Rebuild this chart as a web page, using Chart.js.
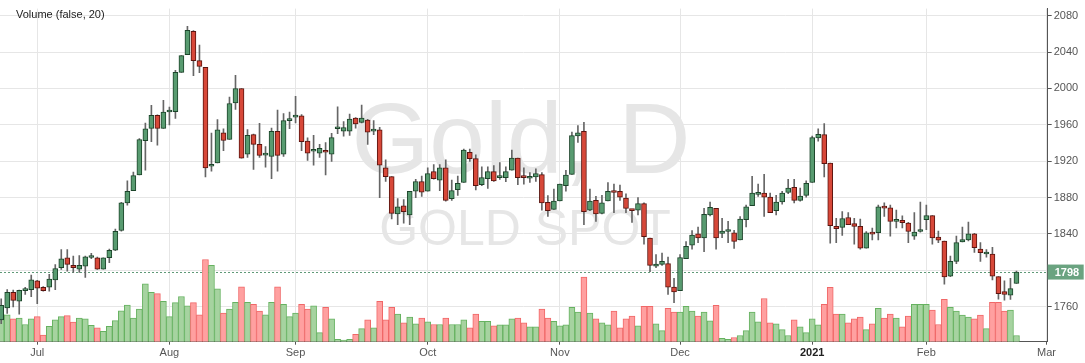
<!DOCTYPE html>
<html>
<head>
<meta charset="utf-8">
<script src="https://cdn.jsdelivr.net/npm/chart.js@4.4.1/dist/chart.umd.min.js"></script>
<style>
  html, body { margin: 0; padding: 0; background: #fff; }
  #wrap { position: relative; width: 1085px; height: 363px; }
  #volLabel { position: absolute; left: 16px; top: 8px; font: 11px 'Liberation Sans', Arial, sans-serif; color: #222; }
</style>
</head>
<body>
<div id="wrap">
  <canvas id="goldChart" width="1085" height="363"></canvas>
  <div id="volLabel">Volume (false, 20)</div>
</div>
<script>
// daily bars, one entry per trading day (late Jun 2020 .. late Feb 2021)
var opens = [1745.4,1758.6,1775.8,1766.1,1777.6,1778.7,1788.3,1781.1,1781.5,1789.4,1802.9,1813.7,1805.4,1801.2,1804.4,1814.0,1813.7,1801.2,1813.7,1822.2,
  1843.7,1874.1,1887.6,1904.8,1942.4,1956.0,1970.3,1956.0,1974.1,1974.5,2017.7,2037.1,2062.8,2030.6,2023.1,1914.4,1918.0,1951.2,1943.8,1984.1,
  1999.9,1927.7,1949.1,1938.4,1926.6,1925.2,1952.7,1927.7,1964.5,1968.4,1969.8,1942.0,1930.9,1928.7,1932.0,1927.7,1955.6,1953.0,1953.0,1967.4,
  1962.7,1965.2,1953.0,1954.5,1912.6,1903.0,1861.9,1870.9,1860.8,1886.9,1897.6,1886.9,1908.4,1899.1,1912.6,1878.7,1888.7,1896.5,1929.8,1922.7,
  1894.0,1900.8,1908.4,1901.9,1901.9,1910.2,1923.4,1903.0,1901.2,1902.6,1905.1,1874.8,1866.9,1876.2,1893.0,1905.5,1947.7,1952.7,1866.2,1876.9,
  1862.6,1876.2,1886.6,1886.9,1879.4,1866.9,1866.2,1873.3,1835.5,1804.4,1806.5,1807.2,1781.5,1777.6,1812.6,1827.6,1840.1,1835.5,1860.8,1868.0,
  1840.5,1842.6,1841.2,1833.3,1855.5,1870.9,1883.4,1884.8,1880.5,1865.5,1875.1,1885.5,1891.2,1876.9,1882.3,1896.5,1945.6,1949.1,1918.0,1848.3,
  1847.2,1858.0,1851.2,1848.3,1824.4,1841.2,1841.2,1869.8,1868.7,1853.7,1854.8,1851.9,1837.6,1842.6,1855.5,1860.1,1836.5,1832.2,1793.6,1809.7,
  1831.1,1833.3,1840.1,1823.3,1817.9,1817.9,1792.9,1776.5,1772.6,1785.4];
var highs = [1768.6,1778.6,1778.2,1778.3,1781.2,1794.7,1789.0,1781.9,1795.4,1806.2,1822.6,1822.6,1815.5,1816.2,1815.5,1818.7,1814.4,1813.7,1823.3,1845.4,
  1874.8,1898.4,1908.0,1944.9,1962.0,1981.4,1971.0,1987.0,1979.5,2019.9,2036.0,2068.2,2063.5,2047.7,2023.1,1950.9,1965.6,1955.6,1990.5,2014.5,
  1999.9,1954.8,1949.8,1961.6,1935.9,1956.3,1976.3,1972.4,1974.1,1991.3,1971.3,1945.6,1948.4,1938.4,1940.5,1950.5,1979.7,1963.4,1971.7,1968.0,
  1981.6,1966.0,1964.5,1957.3,1921.5,1903.0,1878.7,1877.6,1886.9,1900.1,1903.7,1912.6,1916.2,1916.2,1921.5,1899.1,1903.7,1933.4,1933.4,1927.0,
  1913.8,1913.8,1915.2,1918.4,1913.8,1932.3,1923.4,1912.6,1907.3,1911.6,1907.3,1882.0,1889.4,1894.8,1909.8,1952.0,1959.1,1962.7,1889.4,1881.3,
  1882.3,1896.5,1894.8,1893.7,1884.1,1866.9,1879.8,1874.1,1835.5,1817.2,1819.0,1814.4,1791.1,1817.2,1831.5,1843.7,1847.6,1868.0,1875.1,1868.0,
  1857.2,1853.7,1844.0,1859.1,1871.6,1903.3,1894.8,1905.5,1884.8,1882.3,1886.9,1900.1,1900.1,1890.5,1898.4,1947.7,1955.6,1961.3,1918.0,1857.2,
  1864.4,1863.3,1857.2,1856.2,1842.6,1846.5,1871.6,1874.1,1871.6,1866.2,1859.8,1852.6,1863.3,1875.1,1871.6,1860.1,1843.0,1832.2,1815.5,1837.6,
  1847.6,1853.0,1840.5,1830.4,1822.6,1825.1,1792.9,1788.3,1791.1,1799.0];
var lows = [1741.1,1752.5,1759.7,1751.8,1773.3,1770.8,1763.3,1776.9,1776.9,1778.7,1800.8,1799.0,1797.6,1797.6,1792.2,1812.6,1800.8,1801.2,1808.3,1821.5,
  1843.0,1871.6,1887.6,1904.8,1910.2,1941.3,1937.7,1956.0,1959.8,1967.0,2017.7,2037.1,2014.1,2017.4,1902.6,1909.1,1918.0,1931.6,1943.8,1977.0,
  1923.4,1924.1,1910.9,1924.1,1913.4,1900.8,1909.1,1925.2,1955.6,1962.0,1931.6,1920.9,1915.5,1924.1,1904.8,1919.8,1950.2,1947.4,1948.4,1956.3,
  1962.0,1938.4,1949.1,1879.8,1897.6,1856.5,1850.1,1851.9,1850.1,1879.8,1881.3,1886.9,1900.1,1887.6,1875.9,1876.9,1882.3,1896.5,1919.8,1888.3,
  1893.0,1890.1,1897.6,1899.8,1897.3,1910.2,1894.0,1894.8,1896.5,1897.6,1866.2,1859.1,1866.9,1876.2,1886.9,1905.5,1940.5,1850.1,1865.5,1853.7,
  1861.9,1876.2,1863.3,1876.9,1863.3,1852.6,1860.8,1828.7,1798.3,1802.9,1805.4,1773.3,1764.4,1777.6,1812.6,1823.3,1830.4,1820.4,1859.8,1823.3,
  1835.8,1830.4,1824.0,1833.3,1847.6,1870.9,1881.3,1859.1,1863.3,1860.8,1872.7,1884.1,1874.1,1875.9,1880.5,1896.5,1941.9,1902.6,1829.7,1830.4,
  1838.3,1850.1,1828.7,1823.3,1824.4,1833.3,1833.3,1859.1,1837.6,1846.5,1846.5,1830.4,1834.0,1841.9,1844.7,1828.7,1830.4,1784.8,1792.9,1807.2,
  1831.1,1832.2,1819.7,1809.7,1814.4,1789.4,1768.3,1767.2,1767.9,1785.4];
var closes = [1761.5,1775.8,1766.8,1777.9,1777.6,1789.4,1780.4,1777.6,1790.4,1801.9,1812.6,1806.5,1802.9,1805.4,1814.7,1814.7,1801.2,1813.7,1821.9,1842.9,
  1874.1,1886.9,1904.1,1943.8,1955.6,1970.3,1956.0,1974.1,1974.8,2017.7,2036.0,2063.9,2030.6,2024.2,1912.6,1914.4,1954.5,1942.7,1983.4,1999.9,
  1923.4,1948.4,1938.4,1926.3,1926.6,1952.7,1926.3,1964.5,1964.5,1969.8,1941.3,1928.7,1930.9,1934.1,1929.8,1945.9,1955.6,1957.0,1966.3,1960.9,
  1967.4,1952.0,1953.0,1915.5,1903.0,1862.6,1869.8,1864.4,1886.9,1897.6,1885.9,1906.2,1900.8,1912.6,1876.9,1887.6,1895.5,1932.3,1922.7,1893.0,
  1901.9,1908.4,1898.3,1901.9,1908.4,1923.4,1901.9,1901.9,1901.2,1906.2,1874.1,1865.5,1876.2,1894.8,1904.8,1948.0,1951.2,1864.4,1876.2,1861.9,
  1874.1,1886.9,1885.5,1880.5,1868.0,1865.5,1873.3,1836.9,1805.4,1806.9,1809.7,1781.5,1776.2,1814.0,1826.2,1838.7,1835.5,1861.5,1869.1,1835.5,
  1843.0,1842.6,1831.8,1856.2,1869.8,1884.8,1883.4,1880.5,1863.3,1875.1,1884.8,1890.5,1876.9,1881.6,1895.5,1945.9,1949.5,1917.3,1849.0,1845.8,
  1856.9,1850.1,1848.3,1824.4,1841.2,1839.8,1869.8,1868.3,1853.7,1853.7,1852.3,1842.6,1841.9,1843.7,1860.1,1835.5,1833.0,1792.6,1809.7,1830.4,
  1833.6,1840.1,1824.7,1819.4,1817.9,1793.6,1774.3,1773.3,1779.7,1798.0];
var volumes = [85,83,70,73,53,70,77,20,47,67,77,80,60,73,70,50,43,32,47,65,
  95,113,73,100,178,152,148,124,77,120,139,110,120,83,253,235,163,88,100,121,
  169,121,115,94,83,121,169,115,77,88,115,100,110,28,106,70,7,5,7,23,
  40,67,43,124,67,106,85,58,76,55,73,61,53,53,73,53,53,67,43,85,
  63,63,49,52,52,70,73,58,46,46,100,73,63,49,52,106,91,199,88,70,
  58,52,94,43,70,79,49,109,109,55,34,103,91,91,109,94,79,91,64,112,
  10,7,13,19,34,91,61,133,58,55,37,19,67,46,28,70,52,115,167,85,
  85,58,70,76,37,55,103,73,85,73,46,79,115,115,115,97,53,130,106,94,
  82,76,70,82,40,121,121,94,97,19];

// x axis: bar index of the first trading day of each month
var monthStarts = [6, 28, 49, 71, 93, 113, 135, 154, 174];
var monthLabels = ['Jul', 'Aug', 'Sep', 'Oct', 'Nov', 'Dec', '2021', 'Feb', 'Mar'];
var priceTicks = [1760, 1800, 1840, 1880, 1920, 1960, 2000, 2040, 2080];

var wicks = [], bodies = [], vols = [];
var bodyFill = [], bodyLine = [], volFill = [], volLine = [];
for (var i = 0; i < opens.length; i++) {
  var up = closes[i] >= opens[i];
  wicks.push({ x: i, y: [lows[i], highs[i]] });
  bodies.push({ x: i, y: [opens[i], closes[i]] });
  vols.push({ x: i, y: volumes[i] });
  bodyFill.push(up ? '#589b70' : '#d74839');
  bodyLine.push(up ? '#1c442a' : '#5a140f');
  volFill.push(up ? '#a6d3a0' : '#ffa0a0');
  volLine.push(up ? '#66b260' : '#f06868');
}
var lastClose = closes[closes.length - 1];

var watermark = {
  id: 'watermark',
  beforeDraw: function (chart) {
    var c = chart.ctx;
    c.save();
    c.fillStyle = '#e6e6e6';
    c.textAlign = 'center';
    c.textBaseline = 'alphabetic';
    c.font = '100px "Liberation Sans", Arial, sans-serif';
    c.fillText('Gold, D', 521, 173);
    c.font = '50px "Liberation Sans", Arial, sans-serif';
    c.fillText('GOLD SPOT', 525, 245);
    c.restore();
  }
};

var lastPrice = {
  id: 'lastPrice',
  beforeDatasetsDraw: function (chart) {
    var c = chart.ctx, a = chart.chartArea;
    var y = Math.round(chart.scales.y.getPixelForValue(lastClose)) + 0.5;
    c.save();
    c.strokeStyle = '#5f9a78';
    c.lineWidth = 1;
    c.setLineDash([2, 2]);
    c.beginPath();
    c.moveTo(a.left, y);
    c.lineTo(a.right, y);
    c.stroke();
    c.restore();
  },
  afterDraw: function (chart) {
    var c = chart.ctx, a = chart.chartArea;
    var y = chart.scales.y.getPixelForValue(lastClose);
    c.save();
    c.fillStyle = '#6aa380';
    c.fillRect(a.right, y - 7.5, 36, 15);
    c.fillStyle = '#fff';
    c.font = 'bold 11px "Liberation Sans", Arial, sans-serif';
    c.textBaseline = 'middle';
    c.fillText(String(lastClose), a.right + 7, y + 0.5);
    c.restore();
  }
};

Chart.defaults.font.family = '"Liberation Sans", Arial, sans-serif';
Chart.defaults.font.size = 11;
Chart.defaults.color = '#555';

var ctx = document.getElementById('goldChart');
var goldChart = new Chart(ctx, {
  type: 'bar',
  data: {
    datasets: [
      {
        label: 'body',
        data: bodies,
        backgroundColor: bodyFill,
        borderColor: bodyLine,
        borderWidth: 1,
        borderSkipped: false,
        barThickness: 5,
        minBarLength: 2,
        grouped: false,
        yAxisID: 'y',
        order: 0
      },
      {
        label: 'wick',
        data: wicks,
        backgroundColor: '#666',
        borderWidth: 0,
        barThickness: 1,
        grouped: false,
        yAxisID: 'y',
        order: 1
      },
      {
        label: 'volume',
        data: vols,
        backgroundColor: volFill,
        borderColor: volLine,
        borderWidth: 1,
        borderSkipped: 'start',
        barPercentage: 1,
        categoryPercentage: 1,
        grouped: false,
        yAxisID: 'yv',
        order: 2
      }
    ]
  },
  options: {
    responsive: false,
    animation: false,
    layout: { padding: 0 },
    plugins: {
      legend: { display: false },
      tooltip: { enabled: false }
    },
    scales: {
      x: {
        type: 'linear',
        min: -0.2,
        max: 174.2,
        offset: false,
        grid: { offset: false, color: '#e6e6e6', tickColor: '#555', tickLength: 3 },
        border: { color: '#555' },
        afterBuildTicks: function (scale) {
          scale.ticks = monthStarts.map(function (v) { return { value: v }; });
        },
        afterFit: function (scale) { scale.height = 21.3; },
        ticks: {
          autoSkip: false,
          maxRotation: 0,
          padding: 2,
          color: function (c) { return c.tick && c.tick.value === 135 ? '#222' : '#555'; },
          font: function (c) { return c.tick && c.tick.value === 135 ? { weight: 'bold' } : {}; },
          callback: function (v) { return monthLabels[monthStarts.indexOf(v)]; }
        }
      },
      y: {
        position: 'right',
        min: 1721.4,
        max: 2087.8,
        grid: { color: '#e6e6e6', tickColor: '#555', tickLength: 4 },
        border: { color: '#555' },
        afterBuildTicks: function (scale) {
          scale.ticks = priceTicks.map(function (v) { return { value: v }; });
        },
        afterFit: function (scale) { scale.width = 37.3; },
        ticks: { padding: 2, callback: function (v) { return String(v); } }
      },
      yv: {
        display: false,
        min: 0,
        max: 1025
      }
    }
  },
  plugins: [watermark, lastPrice]
});
</script>
</body>
</html>
